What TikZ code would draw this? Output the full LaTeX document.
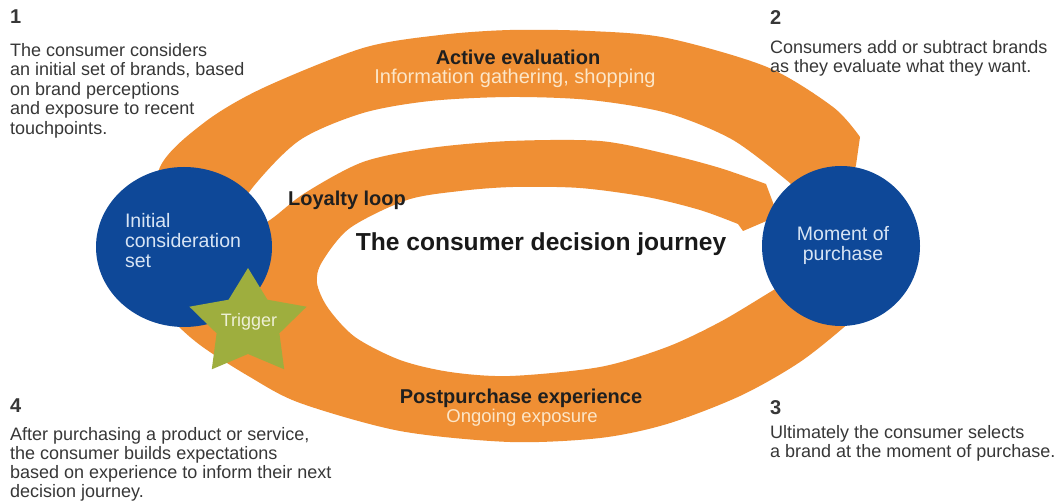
\documentclass[tikz,border=0pt]{standalone}
\usepackage{fontspec}
\setmainfont{Liberation Sans}
\usetikzlibrary{shapes.geometric}
\definecolor{bandorange}{RGB}{239,143,52}
\definecolor{hubblue}{RGB}{14,72,152}
\definecolor{stargreen}{RGB}{158,174,62}
\definecolor{bodygrey}{RGB}{55,55,55}
\definecolor{subcream}{RGB}{252,230,200}
\definecolor{hubtext}{RGB}{215,228,244}
\definecolor{triggertext}{RGB}{238,240,214}

\begin{document}
\begin{tikzpicture}[x=1pt,y=-1pt,
  band/.style={fill=bandorange},
  hub/.style={ellipse, fill=hubblue, inner sep=0pt},
  hublabel/.style={inner sep=0pt, text=hubtext, font=\fontsize{19.5}{20}\selectfont},
  sidetext/.style={anchor=north west, align=left, inner sep=0pt, text=bodygrey,
    font=\fontsize{18}{19.5}\selectfont},
  stepnum/.style={anchor=north west, inner sep=0pt, text=bodygrey,
    font=\fontsize{20}{20}\selectfont\bfseries},
  bandtitle/.style={inner sep=0pt, text=black!88, font=\fontsize{20}{20}\selectfont\bfseries},
  bandsub/.style={inner sep=0pt, text=subcream},
]
\useasboundingbox (0,0) rectangle (1058,502);
\fill[white] (0,0) rectangle (1058,502);

% Active evaluation: outer band, ending in a blunt head above the purchase hub
\fill[band] plot[smooth] coordinates {(150,240) (160,167) (205,122) (263,88) (363,48)
    (440,35) (510,30) (590,31) (667,38) (767,67) (833,107) (860,137)}
  -- (856,165) -- (846,200) -- (800,195)
  -- plot[smooth] coordinates {(790,183) (733,140) (667,113) (590,100) (510,97)
    (430,101) (363,113) (300,140) (253,187) (225,232)}
  -- cycle;

% Loyalty loop and postpurchase experience: one band wrapped round the centre
\fill[band] plot[smooth] coordinates {(822,262) (785,283) (767,294) (720,322) (667,347)
    (600,367) (510,376) (450,372) (400,360) (355,337) (328,308) (317,283) (322,262)
    (350,228) (407,200) (460,191) (513,187) (580,188) (647,197) (700,210) (738,224)}
  -- (743,231) -- (778,216) -- (766,184)
  -- plot[smooth] coordinates {(766,184) (720,168) (667,154) (600,141) (510,141)
    (430,148) (363,162) (305,193) (270,220) (235,240)}
  -- (150,250)
  -- plot[smooth] coordinates {(148,280) (170,317) (200,345) (250,377) (300,403)
    (400,431) (510,442) (600,438) (667,424) (740,396) (800,362) (850,322) (885,288)}
  -- cycle;

% hubs
\node[hub, minimum width=176pt, minimum height=160pt] (ics) at (184,247) {};
\node[hub, minimum width=158pt, minimum height=160pt] (mop) at (841,246) {};
\node[hublabel, align=left] (icslabel) at (183,241) {Initial\\consideration\\set};
\node[hublabel, align=center] (moplabel) at (843,245) {Moment of\\purchase};

% trigger star
\fill[stargreen] (248,268) -- (267.4,299.7) -- (306.6,306.7) -- (279.4,333.3)
  -- (284.2,369.3) -- (248,354) -- (211.8,369.3) -- (216.6,333.3)
  -- (189.4,306.7) -- (228.6,299.7) -- cycle;
\node[inner sep=0pt, text=triggertext, font=\fontsize{18}{18}\selectfont] (trigger) at (249,322) {Trigger};

% band labels
\node[bandtitle] (activetitle) at (518,57) {Active evaluation};
\node[bandsub, font=\fontsize{20}{20}\selectfont] (activesub) at (515,78) {Information gathering, shopping};
\node[bandtitle] (loyaltytitle) at (347,200) {Loyalty loop};
\node[inner sep=0pt, text=black!90, font=\fontsize{24.6}{26}\selectfont\bfseries] (journey) at (541,244) {The consumer decision journey};
\node[bandtitle] (posttitle) at (521,398) {Postpurchase experience};
\node[bandsub, font=\fontsize{18.5}{20}\selectfont] (postsub) at (522,418) {Ongoing exposure};

% numbered notes
\node[stepnum] (n1) at (10,10) {1};
\node[sidetext] (t1) at (10,43) {The consumer considers\\an initial set of brands, based\\on brand perceptions\\and exposure to recent\\touchpoints.};
\node[stepnum] (n2) at (770,10) {2};
\node[sidetext] (t2) at (770,40) {Consumers add or subtract brands\\as they evaluate what they want.};
\node[stepnum] (n3) at (770,400) {3};
\node[sidetext] (t3) at (770,425) {Ultimately the consumer selects\\a brand at the moment of purchase.};
\node[stepnum] (n4) at (10,399) {4};
\node[sidetext, font=\fontsize{18}{19}\selectfont] (t4) at (10,427) {After purchasing a product or service,\\the consumer builds expectations\\based on experience to inform their next\\decision journey.};
\end{tikzpicture}
\end{document}
